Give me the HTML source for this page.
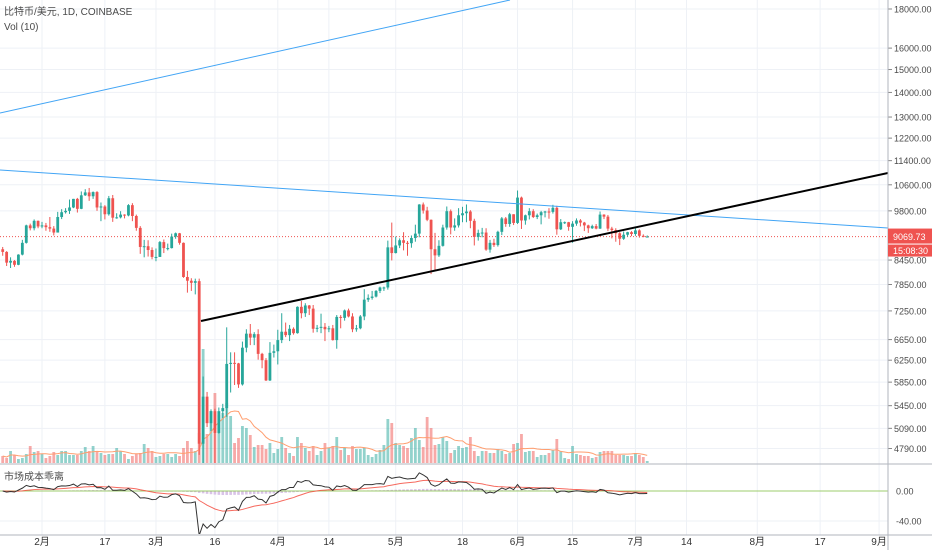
<!DOCTYPE html>
<html><head><meta charset="utf-8">
<style>
body{margin:0;background:#fff;}
svg{display:block;font-family:"Liberation Sans","Noto Sans CJK SC",sans-serif;}
</style></head>
<body>
<svg id="chart" width="932" height="550" viewBox="0 0 932 550" xmlns="http://www.w3.org/2000/svg">
  <defs><clipPath id="pclip"><rect x="0" y="0" width="888" height="463"/></clipPath>
  <clipPath id="oclip"><rect x="0" y="466" width="888" height="68"/></clipPath></defs>
  <g id="grid"></g>
  <g id="vol" clip-path="url(#pclip)"></g>
  <g id="candles" clip-path="url(#pclip)"></g>
  <g id="draw" clip-path="url(#pclip)">
    <line x1="0" y1="113" x2="510" y2="0" stroke="#42a5f5" stroke-width="1"/>
    <line x1="0" y1="170" x2="888" y2="228" stroke="#42a5f5" stroke-width="1"/>
    <line x1="201" y1="321" x2="888" y2="173" stroke="#000" stroke-width="2"/>
  </g>
  <g id="osc" clip-path="url(#oclip)"></g>
  <g id="axes"></g>
  <text x="4" y="15" font-size="10" fill="#4a4a4a">比特币/美元, 1D, COINBASE</text>
  <text x="4" y="30" font-size="10" fill="#4a4a4a">Vol (10)</text>
  <text x="4" y="480" font-size="10" fill="#4a4a4a">市场成本乖离</text>
</svg>
<script>
const closes=[8660,8385,8430,8330,8590,8900,9380,9300,9510,9350,
9380,9330,9290,9180,9620,9760,9800,9900,10160,9860,10270,10360,10240,10370,9900,9930,9700,10180,9600,9610,9690,9665,9970,9650,9310,8790,8810,8710,8530,
8530,8920,8760,8760,9070,9160,8900,8030,7940,7890,7930,4860,5600,5170,5360,5020,5360,5410,6180,6200,6190,5810,6490,6770,6690,6760,6370,6250,5880,6390,6420,
6640,6810,6740,6870,6780,7340,7200,7370,7300,6870,6890,6910,6860,6880,6640,7120,7100,7260,7130,6860,6880,7130,7500,7540,7570,7700,7780,7780,8780,8630,
8830,8970,8900,8890,9030,9150,9990,9810,9540,8730,8570,8820,9320,9790,9320,9380,9670,9730,9780,9510,9060,9170,9180,8720,8900,8840,9200,9580,9420,9700,9450,
10200,9520,9670,9790,9620,9670,9760,9780,9770,9890,9270,9470,9470,9340,9430,9520,9460,9380,9300,9360,9290,9690,9630,9290,9250,9160,9010,9120,9190,9140,
9240,9090,9070,9070];
const firstOpen=8730;
const highs=[8790,8680,8520,8450,8600,8980,9400,9430,9550,9520,
9480,9450,9620,9360,9770,9850,9880,10140,10160,10190,10390,10460,10500,10390,10400,10050,9970,10250,10280,9730,9790,9700,10000,10030,9690,9360,8980,8970,8780,
8750,8950,8990,8880,9150,9180,9170,8910,8180,8000,7990,7990,5950,5680,5390,5400,5420,5480,6900,6400,6400,6200,6610,6860,6970,6800,6860,6390,6290,6600,6550,
6850,7200,7000,6950,6900,7350,7470,7420,7380,7380,6950,7190,6990,6930,6950,7160,7160,7280,7300,7200,6950,7160,7740,7620,7700,7720,7800,7800,8960,9460,
9070,9020,9190,8950,9100,9400,10000,10050,9920,9550,9170,8970,9400,9930,9840,9580,9880,9920,9990,9820,9570,9260,9310,9300,8980,9010,9230,9620,9620,9740,9700,
10420,10230,9690,9880,9850,9720,9800,9800,9880,9980,9950,9560,9490,9480,9500,9580,9560,9480,9400,9400,9420,9780,9700,9680,9340,9300,9190,9210,9200,9220,
9300,9270,9130,9100];
const lows=[8560,8300,8250,8280,8320,8570,8880,9240,9240,9300,
9300,9230,9200,9100,9180,9560,9720,9710,9880,9750,9850,10250,10100,10160,9800,9500,9550,9660,9480,9570,9580,9580,9640,9500,9230,8610,8520,8540,8470,
8420,8530,8630,8700,8750,9010,8850,8010,7660,7700,7620,4700,3850,5110,5050,4440,5010,5250,5270,5670,5800,5750,5790,6400,6540,6540,6260,6100,5870,5870,6300,
6170,6580,6700,6620,6750,6770,7090,7120,7160,6790,6800,6780,6620,6800,6630,6470,6880,7040,7110,6800,6810,6860,7050,7450,7500,7550,7650,7700,7730,8440,
8620,8760,8700,8560,8770,8930,9050,9720,9500,8100,8200,8530,8800,9260,9130,9230,9320,9470,9470,9300,8830,8960,9050,8690,8640,8790,8800,9110,9340,9340,9390,
9420,9280,9400,9550,9590,9560,9410,9610,9570,9720,9120,9250,9420,9230,8900,9370,9350,9220,9170,9280,9270,9280,9560,9220,9020,8930,8840,8980,9070,9080,
9090,9040,9050,9050];
const volumes=[7,5,12,8,4,5,9,17,11,12,
9,5,7,11,8,12,12,8,8,8,12,16,12,17,11,10,8,9,9,15,12,9,4,7,9,10,19,15,12,
6,7,9,9,6,9,7,15,22,15,12,30,114,29,52,70,48,50,60,47,20,25,37,35,28,16,18,18,14,20,10,
14,26,15,10,7,26,20,15,12,17,8,12,20,15,17,26,13,15,8,17,14,14,15,8,6,9,13,18,44,40,
20,18,17,15,25,35,23,16,46,35,18,19,26,22,10,13,17,15,16,26,12,7,12,12,10,10,14,12,9,10,19,
20,29,11,12,12,6,8,8,10,13,24,12,5,4,17,9,8,7,7,5,6,11,12,12,12,8,8,8,7,7,
10,8,6,2];
const priceTicks=[18000,16000,15000,14000,13000,12200,11400,10600,9800,8450,7850,7250,6650,6250,5850,5450,5090,4790];
const oscTicks=[0,-40];
const timeLabels=["2月","17","3月","16","4月","14","5月","18","6月","15","7月","14","8月","17","9月"];
const timeLabelDays=[10,26,39,54,70,83,100,117,131,145,161,174,192,208,223];
const lastPrice=9069.73;

const NS="http://www.w3.org/2000/svg";
function mk(tag,attrs,parent){const e=document.createElementNS(NS,tag);for(const k in attrs)e.setAttribute(k,attrs[k]);parent.appendChild(e);return e;}
const X=i=>42+3.93*(i-10);
const LN=Math.log(18000);
const Y=p=>9+(LN-Math.log(p))*332;
const YV=v=>463-v*1.0;
const YO=v=>491-v*0.75;
const UP="#26a69a",DN="#ef5350";

const grid=document.getElementById('grid'),axes=document.getElementById('axes');
priceTicks.forEach(p=>{
  const l=mk('line',{x1:0,x2:888,y1:Y(p),y2:Y(p),stroke:'#eef1f6','stroke-width':1},grid);
  
  
  const t=mk('text',{x:894,y:Y(p)+3.5,'font-size':9,fill:'#4a4a4a'},axes);
  
  
  t.textContent=p.toFixed(2);
  const tk=mk('line',{x1:888,x2:892,y1:Y(p),y2:Y(p),stroke:'#888'},axes);
  
  
});
oscTicks.forEach(v=>{
  const l=mk('line',{x1:0,x2:888,y1:YO(v),y2:YO(v),stroke:'#eef1f6'},grid);
  
  
  const t=mk('text',{x:896,y:YO(v)+3.5,'font-size':9,fill:'#4a4a4a'},axes);
  
  
  t.textContent=v.toFixed(2);
});
timeLabels.forEach((s,k)=>{
  const x=X(timeLabelDays[k]);
  const l=mk('line',{x1:x,x2:x,y1:0,y2:535,stroke:'#eef1f6'},grid);
  
  
  const t=mk('text',{x:x,y:545,'font-size':10,fill:'#333','text-anchor':'middle'},axes);
  
  
  t.textContent=s;
});
[[0,464,932,464],[0,535,932,535],[888,0,888,550]].forEach(c=>{
  const l=mk('line',{x1:c[0],y1:c[1],x2:c[2],y2:c[3],stroke:'#b2b5be','stroke-width':1},axes);
  
  
});

const vol=document.getElementById('vol');
const opens=closes.map((c,i)=>i===0?firstOpen:closes[i-1]);
volumes.forEach((v,i)=>{
  const up=closes[i]>=opens[i];
  const r=mk('rect',{x:X(i)-1.4,y:YV(v),width:2.8,height:v*1.0,fill:up?'rgba(38,166,154,0.5)':'rgba(239,83,80,0.5)'},vol);
  
  
});
let pts=[];
for(let i=0;i<volumes.length;i++){const s=Math.max(0,i-9);let sum=0;for(let j=s;j<=i;j++)sum+=volumes[j];pts.push(X(i)+','+YV(sum/(i-s+1)));}
const vma=mk('polyline',{points:pts.join(' '),fill:'none',stroke:'#ff9e6f','stroke-width':1},vol);



const lp=mk('line',{x1:0,x2:888,y1:Y(lastPrice),y2:Y(lastPrice),stroke:'#ef5350','stroke-dasharray':'1,2','stroke-width':1},grid);



const cg=document.getElementById('candles');
closes.forEach((c,i)=>{
  const o=opens[i],up=c>=o,col=up?UP:DN,x=X(i);
  const w=mk('line',{x1:x,x2:x,y1:Y(highs[i]),y2:Y(lows[i]),stroke:col,'stroke-width':1},cg);
  
  
  const top=Y(Math.max(o,c)),bot=Y(Math.min(o,c));
  const b=mk('rect',{x:x-1.4,y:top,width:2.8,height:Math.max(1,bot-top),fill:col},cg);
  
  
});

const osc=document.getElementById('osc');
const dev=closes.map((c,i)=>{const s=Math.max(0,i-29);let sum=0;for(let j=s;j<=i;j++)sum+=closes[j];return Math.log(c/(sum/(i-s+1)))*100*0.95;});
const ema=[];dev.forEach((d,i)=>ema.push(i===0?d:ema[i-1]+(d-ema[i-1])*2/21));
ema.forEach((e,i)=>{
  const h=e*0.2*0.75;
  const r=mk('rect',{x:X(i)-1.3,y:Math.min(YO(0),YO(0)-h),width:2.6,height:Math.abs(h),fill:'#d9c3e8'},osc);
  
  
});
const zl=mk('line',{x1:0,x2:888,y1:YO(0),y2:YO(0),stroke:'#8bc34a','stroke-width':1,opacity:0.8},osc);


const rl=mk('polyline',{points:ema.map((e,i)=>X(i)+','+YO(e)).join(' '),fill:'none',stroke:'#f44336','stroke-width':1,opacity:0.8},osc);


const bl=mk('polyline',{points:dev.map((d,i)=>X(i)+','+YO(d)).join(' '),fill:'none',stroke:'#333','stroke-width':1},osc);



const ly=Y(lastPrice);
const r1=mk('rect',{x:888,y:ly-8,width:44,height:15,fill:'#ef5350'},axes);


const t1=mk('text',{x:893,y:ly+3.5,'font-size':9,fill:'#fff'},axes);


t1.textContent=lastPrice.toFixed(2);
const r2=mk('rect',{x:888,y:ly+8,width:44,height:12,fill:'#ef5350'},axes);


const t2=mk('text',{x:893,y:ly+17.5,'font-size':9,fill:'#fff'},axes);


t2.textContent='15:08:30';
</script>
</body></html>
